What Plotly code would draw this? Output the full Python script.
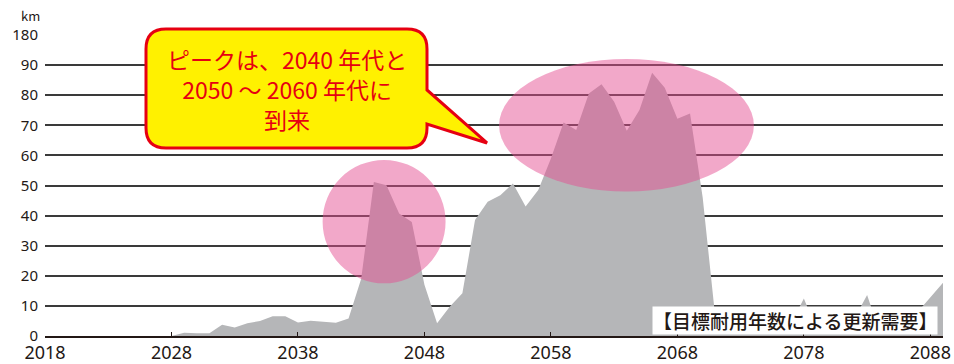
import plotly.graph_objects as go

# Renewal demand by year (km)
years = list(range(2028, 2090))
demand_km = [
    0.0, 1.1, 0.9, 0.9, 3.7, 2.8, 4.2, 5.0, 6.6, 6.6,      # 2028-2037
    4.5, 5.1, 4.7, 4.4, 5.8, 19.0, 51.2, 50.1, 40.7, 37.9,  # 2038-2047
    17.0, 4.2, 9.7, 14.2, 38.5, 44.6, 46.8, 50.7, 43.0, 48.5,  # 2048-2057
    59.0, 70.9, 68.4, 80.6, 83.6, 77.8, 68.2, 75.1, 87.5, 82.5,  # 2058-2067
    72.2, 73.9, 46.0, 6.0, 3.5, 3.0, 4.0, 3.5, 3.0, 4.2,   # 2068-2077
    12.5, 2.2, 3.5, 4.5, 5.8, 13.6, 1.1, 3.0, 5.0, 8.0,    # 2078-2087
    12.7, 17.7,                                            # 2088-2089
]

x_ticks = [2018, 2028, 2038, 2048, 2058, 2068, 2078, 2088]
y_ticks = [0, 10, 20, 30, 40, 50, 60, 70, 80, 90, 100]
y_tick_text = ["0", "10", "20", "30", "40", "50", "60", "70", "80", "90", "180"]

W, H = 954, 364
ML, MR, MT, MB = 45, 11, 35, 28
PW, PH = W - ML - MR, H - MT - MB


def px(x):
    return (x - ML) / PW


def py(y):
    return (H - MB - y) / PH


INK = "#231815"
RED = "#E60012"
PINK = "rgba(229,77,145,0.49)"

fig = go.Figure()
fig.add_trace(go.Scatter(
    x=years, y=demand_km, mode="lines", fill="tozeroy",
    line=dict(width=0, color="#B5B6B8"), fillcolor="#B5B6B8",
    hoverinfo="skip", showlegend=False,
))

# highlighted peaks
fig.add_shape(type="circle", xref="x", yref="y",
              x0=2039.95, x1=2049.67, y0=17.5, y1=58.5,
              fillcolor=PINK, line=dict(width=0), layer="above")
fig.add_shape(type="circle", xref="x", yref="y",
              x0=2053.9, x1=2074.05, y0=48.0, y1=92.0,
              fillcolor=PINK, line=dict(width=0), layer="above")

# speech-bubble callout
L, T, R, B, r = 146, 29, 427, 148, 20
pts = [
    ("M", L + r, T), ("L", R - r, T), ("Q", R, T, R, T + r), ("L", R, 90),
    ("L", 487, 143), ("L", R, 124), ("L", R, B - r), ("Q", R, B, R - r, B),
    ("L", L + r, B), ("Q", L, B, L, B - r), ("L", L, T + r), ("Q", L, T, L + r, T),
]
path = ""
for p in pts:
    cmd, coords = p[0], p[1:]
    xy = []
    for i in range(0, len(coords), 2):
        xy.append(f"{px(coords[i]):.5f},{py(coords[i + 1]):.5f}")
    path += cmd + " ".join(xy) + " "
path += "Z"
fig.add_shape(type="path", xref="paper", yref="paper", path=path,
              fillcolor="#FFF100", line=dict(color=RED, width=3), layer="above")

fig.add_annotation(
    xref="paper", yref="paper", x=px(287), y=py(89), xanchor="center", yanchor="middle",
    text="ピークは、2040 年代と<br>2050 ～ 2060 年代に<br>到来", showarrow=False,
    font=dict(family="Noto Sans CJK JP", size=23, color=RED), align="center",
)

fig.add_annotation(
    xref="paper", yref="paper", x=px(795), y=py(320), xanchor="center", yanchor="middle",
    text="【目標耐用年数による更新需要】", showarrow=False, bgcolor="white", borderpad=0,
    font=dict(family="Noto Sans CJK JP", size=19, color=INK, weight=500),
)

fig.add_annotation(
    xref="paper", yref="paper", x=px(30), y=py(15), xanchor="center", yanchor="middle",
    text="km", showarrow=False,
    font=dict(family="Noto Sans CJK JP", size=13, color=INK),
)

fig.update_layout(
    width=W, height=H, margin=dict(l=ML, r=MR, t=MT, b=MB),
    paper_bgcolor="white", plot_bgcolor="white",
    font=dict(family="Noto Sans", color=INK),
    xaxis=dict(range=[2018, 2089], tickvals=x_ticks, showgrid=False, zeroline=False,
               showline=True, linecolor=INK, linewidth=1.5, automargin=False,
               ticks="inside", ticklen=4, tickcolor=INK, tickwidth=1.2,
               tickfont=dict(size=18, color=INK)),
    yaxis=dict(range=[0, 100], tickvals=y_ticks, ticktext=y_tick_text,
               showgrid=True, gridcolor="#3a3a3a", gridwidth=1.5, zeroline=False,
               showline=False, ticks="", ticklabelstandoff=6, automargin=False,
               tickfont=dict(size=15, color=INK)),
)

fig.write_html("out.html")
